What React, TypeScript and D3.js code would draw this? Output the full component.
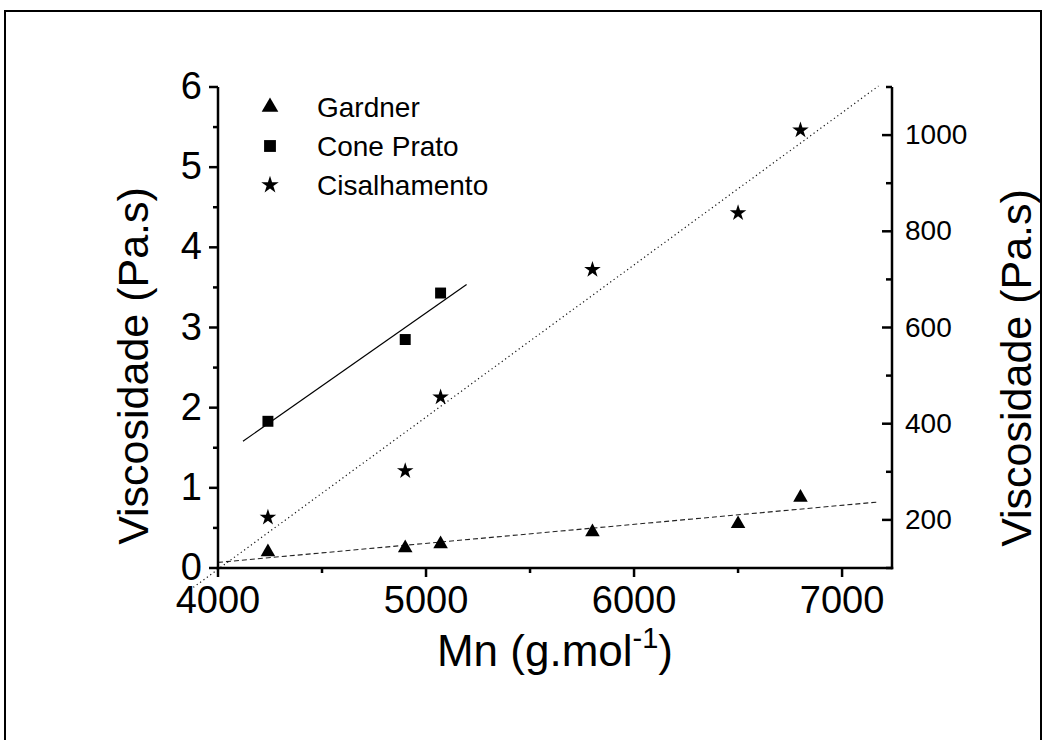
import React from "react";
import * as d3 from "d3";

const mn = [4240, 4900, 5070, 5800, 6500, 6800];
const gardner = [0.2, 0.25, 0.3, 0.45, 0.55, 0.88];
const conePratoMn = [4240, 4900, 5070];
const conePrato = [1.83, 2.85, 3.43];
const cisalhamento = [205, 302, 455, 720, 838, 1010];

const xTicks = [4000, 5000, 6000, 7000];
const xMinor = [4500, 5500, 6500];
const yLeftTicks = [0, 1, 2, 3, 4, 5, 6];
const yLeftMinor = [0.5, 1.5, 2.5, 3.5, 4.5, 5.5];
const yRightTicks = [200, 400, 600, 800, 1000];
const yRightMinor = [100, 300, 500, 700, 900, 1100];

const gardnerFitRange = [4000, 7175];
const conePratoFitRange = [4120, 5195];
const cisalhamentoFitRange = [3865, 7175];

const legendItems = ["Gardner", "Cone Prato", "Cisalhamento"];

function linreg(xs: number[], ys: number[]) {
  const n = xs.length;
  const mx = d3.mean(xs) as number;
  const my = d3.mean(ys) as number;
  let sxy = 0, sxx = 0;
  for (let i = 0; i < n; i++) {
    sxy += (xs[i] - mx) * (ys[i] - my);
    sxx += (xs[i] - mx) * (xs[i] - mx);
  }
  const b = sxy / sxx;
  const a = my - b * mx;
  return (x: number) => a + b * x;
}

export default function App() {
  const W = 1052, H = 740;
  const L = 218, R = 892, T = 87, B = 568;
  const x = d3.scaleLinear().domain([4000, 7240]).range([L, R]);
  const yL = d3.scaleLinear().domain([0, 6]).range([B, T]);
  const yR = d3.scaleLinear().domain([100, 1100]).range([B, T]);
  const font = "'Liberation Sans', Arial, sans-serif";

  const tri = d3.symbol().type(d3.symbolTriangle).size(92)() as string;
  const sq = d3.symbol().type(d3.symbolSquare).size(120)() as string;
  const star = d3.symbol().type(d3.symbolStar).size(85)() as string;
  const triL = d3.symbol().type(d3.symbolTriangle).size(120)() as string;
  const sqL = d3.symbol().type(d3.symbolSquare).size(140)() as string;
  const starL = d3.symbol().type(d3.symbolStar).size(95)() as string;

  const fg = linreg(mn, gardner);
  const fc = linreg(conePratoMn, conePrato);
  const fs = linreg(mn, cisalhamento);
  const line = d3.line<[number, number]>().x(d => d[0]).y(d => d[1]);
  const gLine = line(gardnerFitRange.map(m => [x(m), yL(fg(m))] as [number, number]));
  const cLine = line(conePratoFitRange.map(m => [x(m), yL(fc(m))] as [number, number]));
  const sLine = line(cisalhamentoFitRange.map(m => [x(m), yR(fs(m))] as [number, number]));

  return (
    <svg width={W} height={H} style={{ position: "absolute", left: 0, top: 0, background: "#fff" }} fontFamily={font}>
      <rect x={0} y={0} width={W} height={H} fill="#fff" />
      <path d={`M5,${H + 5} V11 H1041 V${H + 5}`} fill="none" stroke="#000" strokeWidth={2} />

      {/* fit lines */}
      <path d={gLine || ""} fill="none" stroke="#222" strokeWidth={1.1} strokeDasharray="5,3" />
      <path d={cLine || ""} fill="none" stroke="#000" strokeWidth={1.2} />
      <path d={sLine || ""} fill="none" stroke="#111" strokeWidth={1.2} strokeDasharray="1.2,3" />

      {/* axes */}
      <g stroke="#000" strokeWidth={2.5} fill="none">
        <line x1={L} y1={T} x2={L} y2={B + 1.25} />
        <line x1={L - 1.25} y1={B} x2={R + 1.25} y2={B} />
        <line x1={R} y1={T} x2={R} y2={B + 1.25} />
        {xTicks.map(t => <line key={"xt" + t} x1={x(t)} x2={x(t)} y1={B} y2={B + 9} />)}
        {xMinor.map(t => <line key={"xm" + t} x1={x(t)} x2={x(t)} y1={B} y2={B + 5} />)}
        {yLeftTicks.map(t => <line key={"yt" + t} x1={L} x2={L - 9} y1={yL(t)} y2={yL(t)} />)}
        {yLeftMinor.map(t => <line key={"ym" + t} x1={L} x2={L - 5} y1={yL(t)} y2={yL(t)} />)}
        {yRightTicks.map(t => <line key={"rt" + t} x1={R} x2={R - 10} y1={yR(t)} y2={yR(t)} />)}
        {yRightMinor.map(t => <line key={"rm" + t} x1={R} x2={R - 6} y1={yR(t)} y2={yR(t)} />)}
      </g>

      {/* tick labels */}
      <g fontSize={38} fill="#000">
        {xTicks.map(t => <text key={"xl" + t} x={x(t)} y={B + 45} textAnchor="middle">{t}</text>)}
        {yLeftTicks.map(t => <text key={"yl" + t} x={L - 16} y={yL(t) + 12} textAnchor="end">{t}</text>)}
      </g>
      <g fontSize={28} fill="#000">
        {yRightTicks.map(t => <text key={"rl" + t} x={R + 13} y={yR(t) + 9} textAnchor="start">{t}</text>)}
      </g>

      {/* axis titles */}
      <text transform={`translate(148,366) rotate(-90)`} textAnchor="middle" fontSize={43}>Viscosidade (Pa.s)</text>
      <text transform={`translate(1031,368) rotate(-90)`} textAnchor="middle" fontSize={43}>Viscosidade (Pa.s)</text>
      <text x={(L + R) / 2} y={666} textAnchor="middle" fontSize={44}>
        Mn (g.mol<tspan fontSize={29} dy={-18}>-1</tspan><tspan dy={18}>)</tspan>
      </text>

      {/* points */}
      {mn.map((m, i) => <path key={"g" + i} d={tri} transform={`translate(${x(m)},${yL(gardner[i])})`} fill="#000" />)}
      {conePratoMn.map((m, i) => <path key={"c" + i} d={sq} transform={`translate(${x(m)},${yL(conePrato[i])})`} fill="#000" />)}
      {mn.map((m, i) => <path key={"s" + i} d={star} transform={`translate(${x(m)},${yR(cisalhamento[i])})`} fill="#000" />)}

      {/* legend */}
      {legendItems.map((name, i) => (
        <g key={name} transform={`translate(270,${107 + i * 39})`}>
          <path d={[triL, sqL, starL][i]} fill="#000" />
          <text x={47} y={10} fontSize={28}>{name}</text>
        </g>
      ))}
    </svg>
  );
}
